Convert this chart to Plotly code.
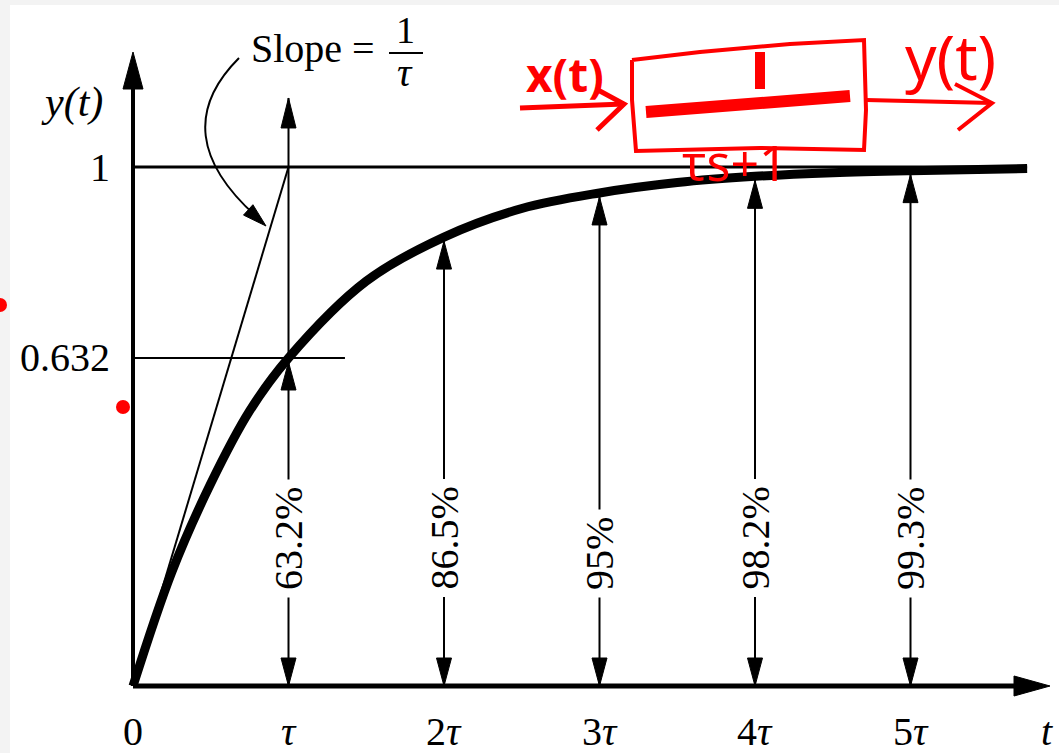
import plotly.graph_objects as go

# ---- data (time in units of tau) ----
t_curve = [0, 0.25, 0.5, 0.75, 1, 1.5, 2, 2.5, 3, 3.5, 4, 4.5, 5, 5.75]
y_curve = [0, 0.22, 0.39, 0.53, 0.632, 0.78, 0.865, 0.92, 0.95, 0.97, 0.982, 0.989, 0.993, 0.997]

multiples = [1, 2, 3, 4, 5]
pct_values = [63.2, 86.5, 95, 98.2, 99.3]
pct_labels = ["63.2%", "86.5%", "95%", "98.2%", "99.3%"]
tick_pos = [0, 1, 2, 3, 4, 5]
tick_labels = ["0", "<i>τ</i>", "2<i>τ</i>", "3<i>τ</i>", "4<i>τ</i>", "5<i>τ</i>"]
y_levels = [1, 0.632]
y_level_labels = ["1", "0.632"]
slope_end = 1.0          # tangent at origin reaches y=1 at t = tau
t_max = 5.75
tau_guide_top = 1.133

# ---- canvas / scale ----
W, H = 1059, 753
X0, Y0 = 133, 686          # origin in pixels
SX, SY = 155.5, 519        # pixels per tau / per unit of y


def px2x(p):
    return (p - X0) / SX


def px2y(p):
    return (Y0 - p) / SY


def head(tx, ty, ux, uy, length=28, width=15):
    """Filled arrowhead with tip at data (tx, ty), pointing along pixel direction (ux, uy)."""
    n = (ux ** 2 + uy ** 2) ** 0.5
    ux, uy = ux / n, uy / n
    px, py = -uy, ux
    pts = [(0, 0),
           (-length * ux + width / 2 * px, -length * uy + width / 2 * py),
           (-length * ux - width / 2 * px, -length * uy - width / 2 * py)]
    d = "M " + " L ".join(f"{tx + a / SX:.5f},{ty - b / SY:.5f}" for a, b in pts) + " Z"
    return dict(type="path", path=d, fillcolor="black", line=dict(color="black", width=1),
                xref="x", yref="y")


def line(x0, y0, x1, y1, w=2, color="black"):
    return dict(type="line", x0=x0, y0=y0, x1=x1, y1=y1, xref="x", yref="y",
                line=dict(color=color, width=w))


def pix_path(points, w, color="red", closed=False):
    d = "M " + " L ".join(f"{px2x(a):.5f},{px2y(b):.5f}" for a, b in points)
    if closed:
        d += " Z"
    return dict(type="path", path=d, xref="x", yref="y", line=dict(color=color, width=w))


fig = go.Figure()

# step response curve
fig.add_trace(go.Scatter(x=t_curve, y=y_curve, mode="lines",
                         line=dict(color="black", width=9, shape="spline", smoothing=1.0),
                         hoverinfo="skip", showlegend=False))

shapes = []

# background edges of the scan
shapes.append(dict(type="rect", xref="paper", yref="paper", x0=0, x1=10 / W, y0=0, y1=1,
                   fillcolor="#f3f3f3", line=dict(width=0), layer="below"))
shapes.append(dict(type="rect", xref="paper", yref="paper", x0=0, x1=1, y0=1 - 5 / H, y1=1,
                   fillcolor="#f3f3f3", line=dict(width=0), layer="below"))

# axes with arrows
y_axis_tip = px2y(52)
x_axis_tip = px2x(1050)
shapes.append(line(0, 0, 0, y_axis_tip - 20 / SY, w=4))
shapes.append(head(0, y_axis_tip, 0, -1, length=37, width=20))
shapes.append(line(0, 0, x_axis_tip - 20 / SX, 0, w=5))
shapes.append(head(x_axis_tip, 0, 1, 0, length=36, width=20))

# reference levels
shapes.append(line(0, y_levels[0], t_max, y_levels[0], w=3))
shapes.append(line(0, y_levels[1], 1.363, y_levels[1], w=2))

# tangent at the origin
shapes.append(line(0, 0, slope_end, 1, w=2))

# vertical double arrows at multiples of tau
for k, p in zip(multiples, pct_values):
    yv = p / 100
    top = tau_guide_top if k == 1 else yv
    shapes.append(line(k, 0, k, top, w=2))
    shapes.append(head(k, yv - 4 / SY, 0, -1))
    shapes.append(head(k, 0, 0, 1))
    if k == 1:
        shapes.append(head(k, tau_guide_top, 0, -1, length=30))

# curved pointer from the slope label to the tangent
p0, c, p2 = (239, 58), (163, 134), (258, 218)
shapes.append(dict(type="path", xref="x", yref="y",
                   path=f"M {px2x(p0[0]):.5f},{px2y(p0[1]):.5f} Q {px2x(c[0]):.5f},{px2y(c[1]):.5f} "
                        f"{px2x(p2[0]):.5f},{px2y(p2[1]):.5f}",
                   line=dict(color="black", width=2)))
shapes.append(head(px2x(266), px2y(226), 95, 86, length=24, width=14))

# fraction bar of 1/tau
shapes.append(pix_path([(389, 53), (423, 53)], 2, color="black"))

# handwritten block diagram (red)
shapes.append(pix_path([(632, 60), (700, 52), (790, 44), (864, 40), (866, 110), (864, 150),
                        (760, 148), (636, 151), (632, 100), (632, 60)], 4))
shapes.append(pix_path([(646, 112), (850, 96)], 12))
shapes.append(pix_path([(760, 52), (760, 89)], 10))
shapes.append(pix_path([(520, 108), (624, 104)], 5))
shapes.append(pix_path([(598, 90), (624, 104), (597, 130)], 5))
shapes.append(pix_path([(866, 100), (992, 103)], 4))
shapes.append(pix_path([(955, 84), (992, 103), (958, 130)], 4))

# red dots
for cx, cy in [(0, 305), (123, 407)]:
    shapes.append(dict(type="circle", xref="x", yref="y",
                       x0=px2x(cx - 7), x1=px2x(cx + 7), y0=px2y(cy + 7), y1=px2y(cy - 7),
                       fillcolor="red", line=dict(width=0)))

annotations = []
serif = "Liberation Serif"
FS = 40

# x tick labels
for tp, tl in zip(tick_pos, tick_labels):
    annotations.append(dict(x=tp, y=px2y(731), text=tl, showarrow=False,
                            font=dict(family=serif, size=FS, color="black")))
annotations.append(dict(x=px2x(1047), y=px2y(731), text="<i>t</i>", showarrow=False,
                        font=dict(family=serif, size=FS, color="black")))

# y level labels
for yl, lab in zip(y_levels, y_level_labels):
    annotations.append(dict(x=px2x(112), y=yl, text=lab, showarrow=False, xanchor="right",
                            font=dict(family=serif, size=FS, color="black")))
annotations.append(dict(x=px2x(72), y=px2y(102), text="<i>y(t)</i>", showarrow=False,
                        font=dict(family=serif, size=42, color="black")))

# rotated percentage labels
for k, lab in zip(multiples, pct_labels):
    annotations.append(dict(x=k, y=px2y(598), text=lab, showarrow=False, textangle=-90,
                            yanchor="bottom", bgcolor="white", borderpad=7,
                            font=dict(family=serif, size=40, color="black")))

# slope label
annotations.append(dict(x=px2x(313), y=px2y(48), text="Slope =", showarrow=False,
                        font=dict(family=serif, size=FS, color="black")))
annotations.append(dict(x=px2x(405), y=px2y(30), text="1", showarrow=False,
                        font=dict(family=serif, size=38, color="black")))
annotations.append(dict(x=px2x(405), y=px2y(72), text="<i>τ</i>", showarrow=False,
                        font=dict(family=serif, size=40, color="black")))

# handwritten labels (red)
hand = "Noto Sans"
annotations.append(dict(x=px2x(565), y=px2y(74), text="<b>x(t)</b>", showarrow=False,
                        font=dict(family=hand, size=46, color="red")))
annotations.append(dict(x=px2x(735), y=px2y(162), text="τs+1", showarrow=False,
                        font=dict(family=hand, size=50, color="red")))
annotations.append(dict(x=px2x(950), y=px2y(56), text="y(t)", showarrow=False,
                        font=dict(family=hand, size=62, color="red")))

fig.update_layout(
    width=W, height=H, margin=dict(l=0, r=0, t=0, b=0),
    paper_bgcolor="white", plot_bgcolor="white",
    xaxis=dict(range=[px2x(0), px2x(W)], visible=False, fixedrange=True),
    yaxis=dict(range=[px2y(H), px2y(0)], visible=False, fixedrange=True),
    shapes=shapes, annotations=annotations, showlegend=False,
)

fig.write_html("out.html")
